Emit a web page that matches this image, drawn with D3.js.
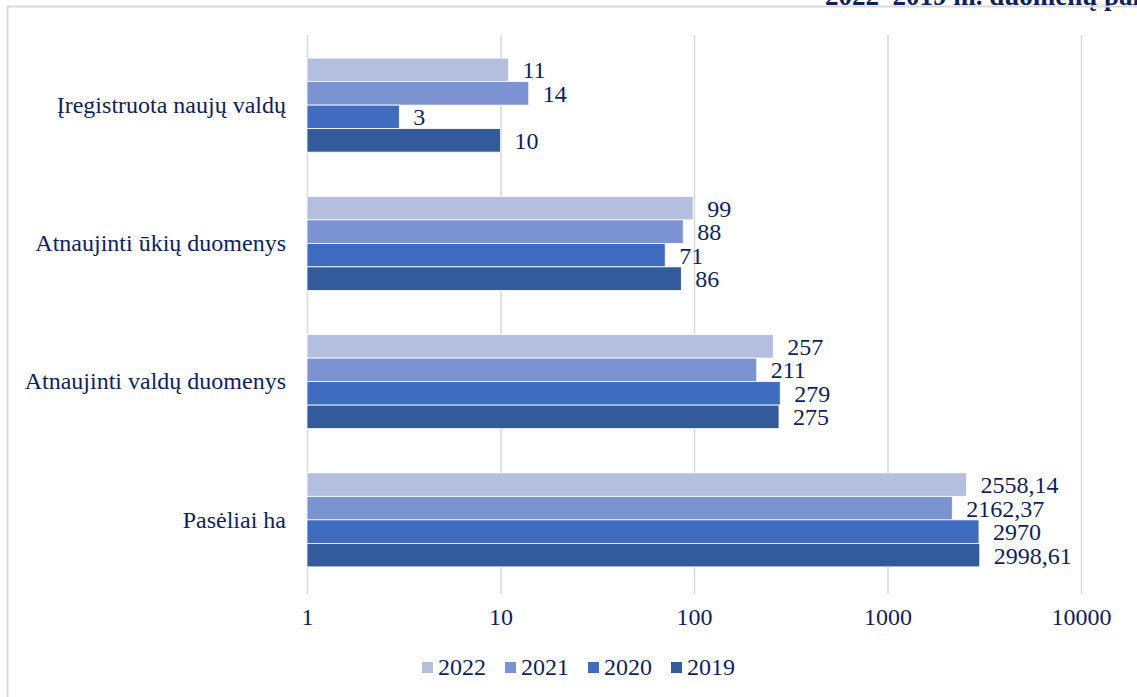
<!DOCTYPE html>
<html><head><meta charset="utf-8">
<script src="https://cdn.jsdelivr.net/npm/d3@7"></script>
<style>body{margin:0;background:#fff}svg{display:block}</style>
</head><body><svg id="c" width="1137" height="697"></svg>
<script>
const categories = ["Įregistruota naujų valdų","Atnaujinti ūkių duomenys","Atnaujinti valdų duomenys","Pasėliai ha"];
const seriesNames = ["2022","2021","2020","2019"];
const v2022 = [11, 99, 257, 2558.14];
const v2021 = [14, 88, 211, 2162.37];
const v2020 = [3, 71, 279, 2970];
const v2019 = [10, 86, 275, 2998.61];
const labels2022 = ["11","99","257","2558,14"];
const labels2021 = ["14","88","211","2162,37"];
const labels2020 = ["3","71","279","2970"];
const labels2019 = ["10","86","275","2998,61"];
const tickValues = [1,10,100,1000,10000];
const tickLabels = ["1","10","100","1000","10000"];
const colors = ["#b4bfe0","#7b93d0","#3f6cbe","#335a9b"];
const titleText = "2022–2019 m. duomenų palyginimas";

const series = [v2022,v2021,v2020,v2019];
const seriesLabels = [labels2022,labels2021,labels2020,labels2019];
const txt = "#0f1f5c";
const font = "'Liberation Serif','Times New Roman',serif";
const fs = 24;

const svg = d3.select("#c");
const x = d3.scaleLog().domain([1,10000]).range([307,1081]);
const y0 = d3.scaleBand().domain(categories).range([36,589]).paddingInner(0.32).paddingOuter(0.16);
const y1 = d3.scaleBand().domain(seriesNames).range([0,y0.bandwidth()]);

// title (clipped at top, as in the reference)
svg.append("text").attr("x",825).attr("y",5).attr("font-family",font).attr("font-weight","bold")
  .attr("font-size",27).attr("fill","#0e1f5e").text(titleText);
// border
svg.append("line").attr("x1",7).attr("x2",1137).attr("y1",6.5).attr("y2",6.5).attr("stroke","#d9d9d9").attr("stroke-width",2);
svg.append("line").attr("x1",7.5).attr("x2",7.5).attr("y1",6).attr("y2",697).attr("stroke","#d9d9d9").attr("stroke-width",2);

// grid + axis
const xAxis = d3.axisBottom(x).tickValues(tickValues).tickFormat((d,i)=>tickLabels[i]).tickSize(-(594-35)).tickSizeOuter(0);
const gx = svg.append("g").attr("transform","translate(0,594)").call(xAxis);
gx.select(".domain").remove();
gx.selectAll(".tick line").attr("stroke","#d9d9d9").attr("stroke-width",1.5);
gx.selectAll(".tick text").attr("font-family",font).attr("font-size",fs).attr("fill",txt).attr("dy",0).attr("y",31);

// category labels
const yAxis = d3.axisLeft(y0).tickSize(0).tickPadding(21);
const gy = svg.append("g").attr("transform","translate(307,0)").call(yAxis);
gy.select(".domain").remove();
gy.selectAll(".tick text").attr("font-family",font).attr("font-size",fs).attr("fill",txt);

// bars
const groups = svg.append("g").selectAll("g").data(categories).join("g")
  .attr("transform",d=>`translate(0,${y0(d)})`);
seriesNames.forEach((s,si)=>{
  groups.append("rect")
    .attr("x",x(1))
    .attr("y",y1(s))
    .attr("width",(d,i)=>x(series[si][i])-x(1))
    .attr("height",y1.bandwidth())
    .attr("fill",colors[si]).attr("stroke","#fff").attr("stroke-width",0.8);
  groups.append("text")
    .attr("x",(d,i)=>x(series[si][i])+14)
    .attr("y",y1(s)+y1.bandwidth()/2)
    .attr("dy","0.35em")
    .attr("font-family",font).attr("font-size",fs).attr("fill",txt)
    .text((d,i)=>seriesLabels[si][i]);
});

// legend
const leg = svg.append("g").attr("transform","translate(422,662)");
seriesNames.forEach((s,i)=>{
  const g = leg.append("g").attr("transform",`translate(${i*83},0)`);
  g.append("rect").attr("width",11).attr("height",11).attr("fill",colors[i]);
  g.append("text").attr("x",16).attr("y",13).attr("font-family",font).attr("font-size",fs).attr("fill",txt).text(s);
});
</script></body></html>
